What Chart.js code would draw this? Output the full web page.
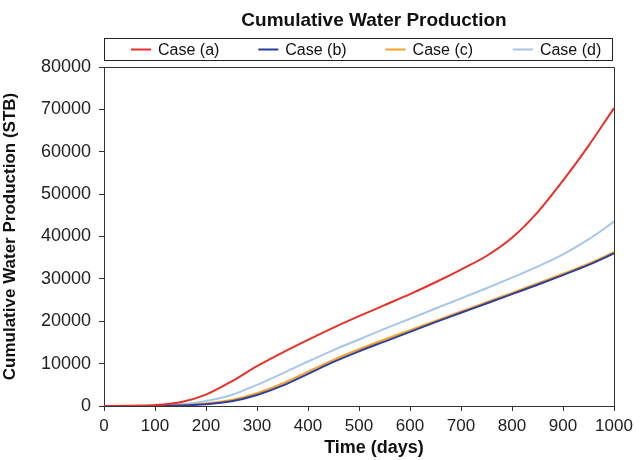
<!DOCTYPE html>
<html>
<head>
<meta charset="utf-8">
<script src="https://cdn.jsdelivr.net/npm/chart.js@4.4.1/dist/chart.umd.min.js"></script>
<style>
  html, body { margin: 0; padding: 0; background: #fff; }
  #wrap { width: 644px; height: 460px; }
</style>
</head>
<body>
<div id="wrap"><canvas id="myChart" width="644" height="460"></canvas></div>
<script>
// time axis (days)
const days = [0, 50, 100, 150, 200, 250, 300, 350, 400, 450, 500, 550, 600, 650, 700, 750, 800, 850, 900, 950, 1000];

// cumulative water production (STB)
const caseA = [0, 30, 200, 900, 2700, 5800, 9400, 12600, 15600, 18500, 21200, 23800, 26400, 29200, 32200, 35400, 39700, 45700, 53200, 61400, 70300];
const caseB = [0, 0, 30, 120, 400, 1100, 2600, 4800, 7600, 10400, 12900, 15200, 17500, 19800, 22000, 24200, 26400, 28600, 30900, 33300, 36000];
const caseC = [0, 0, 50, 200, 600, 1400, 3000, 5300, 8100, 10900, 13400, 15700, 17900, 20100, 22300, 24500, 26700, 28900, 31200, 33600, 36300];
const caseD = [0, 0, 100, 400, 1200, 2600, 5000, 7700, 10500, 13200, 15700, 18200, 20600, 23000, 25400, 27800, 30300, 32900, 35800, 39300, 43500];

const seriesNames = ["Case (a)", "Case (b)", "Case (c)", "Case (d)"];
const seriesColors = ["#e8302a", "#2b3f9c", "#f7a02a", "#a7c7ea"];

const chartTitle = "Cumulative Water Production";
const xTitle = "Time (days)";
const yTitle = "Cumulative Water Production (STB)";

const FONT = "'Liberation Sans', Arial, Helvetica, sans-serif";

function toPoints(vals) {
  return days.map((d, i) => ({ x: d, y: vals[i] }));
}

const allSeries = [caseA, caseB, caseC, caseD];
const datasets = allSeries.map((vals, i) => ({
  label: seriesNames[i],
  data: toPoints(vals),
  borderColor: seriesColors[i],
  backgroundColor: seriesColors[i],
  borderWidth: 2,
  pointRadius: 0,
  cubicInterpolationMode: "monotone",
  fill: false,
}));

// title, boxed legend, x title and plot frame
const decorPlugin = {
  id: "decor",
  afterDraw(chart) {
    const ctx = chart.ctx;
    const area = chart.chartArea;
    ctx.save();

    // frame on top / right
    ctx.strokeStyle = "#333";
    ctx.lineWidth = 1;
    ctx.beginPath();
    ctx.moveTo(area.left, area.top + 0.5);
    ctx.lineTo(area.right + 0.5, area.top + 0.5);
    ctx.lineTo(area.right + 0.5, area.bottom);
    ctx.stroke();

    // title
    ctx.fillStyle = "#111";
    ctx.font = "bold 19px " + FONT;
    ctx.textAlign = "center";
    ctx.textBaseline = "alphabetic";
    ctx.fillText(chartTitle, 374, 26);

    // x axis title
    ctx.font = "bold 18px " + FONT;
    ctx.fillText(xTitle, 374, 453);

    // legend box
    const boxL = area.left, boxR = 612, boxT = 38.5, boxB = 60.5;
    ctx.strokeStyle = "#222";
    ctx.strokeRect(boxL + 0.5, boxT, boxR - boxL, boxB - boxT);

    ctx.font = "16px " + FONT;
    ctx.textAlign = "left";
    ctx.textBaseline = "middle";
    const step = 127.3;
    chart.data.datasets.forEach((ds, i) => {
      const x0 = 131 + i * step;
      const y = (boxT + boxB) / 2;
      ctx.strokeStyle = ds.borderColor;
      ctx.lineWidth = 2;
      ctx.beginPath();
      ctx.moveTo(x0, y);
      ctx.lineTo(x0 + 20, y);
      ctx.stroke();
      ctx.fillStyle = "#111";
      ctx.fillText(ds.label, x0 + 27, y + 1);
    });

    ctx.restore();
  },
};

const config = {
  type: "line",
  data: { datasets: datasets },
  options: {
    responsive: false,
    animation: false,
    layout: { padding: { top: 67, right: 30, left: 0, bottom: 0 } },
    plugins: {
      legend: { display: false },
      title: { display: false },
      tooltip: { enabled: false },
    },
    scales: {
      x: {
        type: "linear",
        min: 0,
        max: 1000,
        ticks: {
          stepSize: 100,
          color: "#222",
          font: { family: FONT, size: 17 },
          padding: 5,
          maxRotation: 0,
          callback: (v) => String(v),
        },
        grid: {
          display: true,
          drawOnChartArea: false,
          drawTicks: true,
          tickLength: 5,
          color: "#333",
        },
        border: { display: true, color: "#333", width: 1 },
        title: { display: false },
        afterFit(scale) {
          scale.height = 54;
        },
      },
      y: {
        min: 0,
        max: 80000,
        ticks: {
          stepSize: 10000,
          color: "#222",
          font: { family: FONT, size: 18 },
          padding: 8,
          callback: (v) => String(v),
        },
        grid: {
          display: true,
          drawOnChartArea: false,
          drawTicks: true,
          tickLength: 5,
          color: "#333",
        },
        border: { display: true, color: "#333", width: 1 },
        title: {
          display: true,
          text: yTitle,
          color: "#111",
          font: { family: FONT, size: 17, weight: "bold" },
          padding: { top: 0, bottom: 0 },
        },
        afterFit(scale) {
          scale.width = 104;
        },
      },
    },
  },
  plugins: [decorPlugin],
};

const myChart = new Chart(document.getElementById("myChart"), config);
</script>
</body>
</html>
